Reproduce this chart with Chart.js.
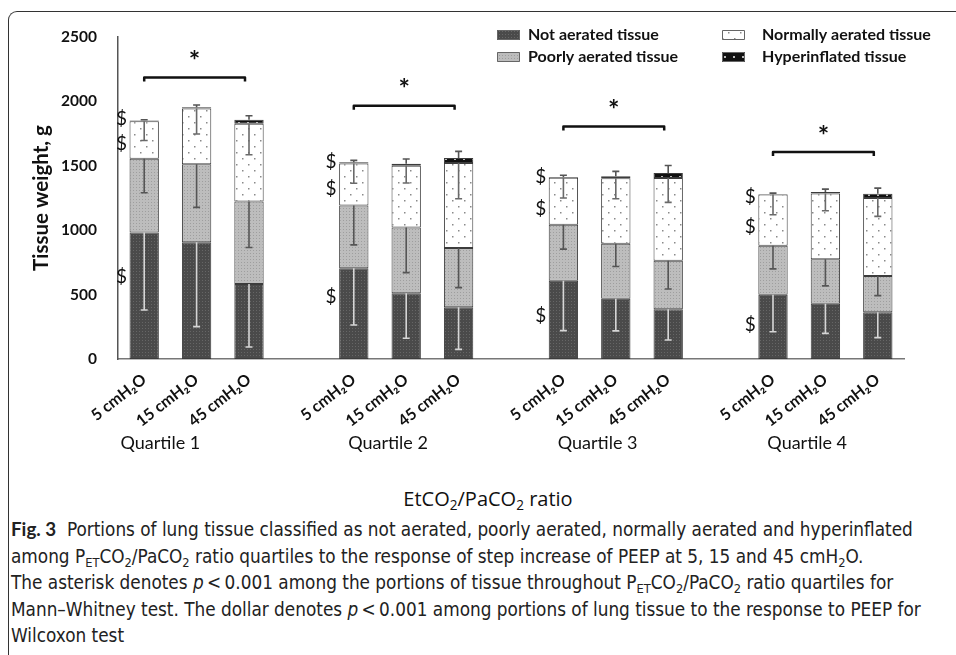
<!DOCTYPE html>
<html>
<head>
<meta charset="utf-8">
<script src="https://cdn.jsdelivr.net/npm/chart.js@4.4.1/dist/chart.umd.min.js"></script>
<style>
    html, body { margin: 0; padding: 0; background: #fff; }
    body { width: 956px; height: 655px; position: relative; overflow: hidden; font-family: Lato, "Open Sans", sans-serif; color: #111; }
    #frame { position: absolute; left: 8px; top: 11px; width: 960px; height: 660px; border-left: 1.5px solid #333; border-top: 1.5px solid #333; border-top-left-radius: 9px; }
    #wrap { position: absolute; left: 0; top: 0; width: 956px; height: 470px; }
    #xtitle { position: absolute; left: 338px; width: 300px; top: 485px; text-align: center; font-size: 20px; font-family: "Open Sans", sans-serif; }
    #caption { position: absolute; left: 11px; top: 516px; font-family: "DejaVu Sans Condensed", "Liberation Sans Narrow", sans-serif; font-size: 18.8px; line-height: 26.5px; color: #222; white-space: nowrap; }
    #caption b { font-family: Lato, "Open Sans", sans-serif; }
    sub { font-size: 0.68em; vertical-align: -0.3em; line-height: 0; }
</style>
</head>
<body>
<div id="frame"></div>
<div id="wrap"><canvas id="chart" width="956" height="470"></canvas></div>
<div id="xtitle">EtCO<sub>2</sub>/PaCO<sub>2</sub> ratio</div>
<div id="caption">
    <div><b>Fig. 3</b>&nbsp; Portions of lung tissue classified as not aerated, poorly aerated, normally aerated and hyperinflated</div>
    <div>among P<sub>ET</sub>CO<sub>2</sub>/PaCO<sub>2</sub> ratio quartiles to the response of step increase of PEEP at 5, 15 and 45 cmH<sub>2</sub>O.</div>
    <div>The asterisk denotes <i>p</i>&thinsp;&lt;&thinsp;0.001 among the portions of tissue throughout P<sub>ET</sub>CO<sub>2</sub>/PaCO<sub>2</sub> ratio quartiles for</div>
    <div>Mann–Whitney test. The dollar denotes <i>p</i>&thinsp;&lt;&thinsp;0.001 among portions of lung tissue to the response to PEEP for</div>
    <div>Wilcoxon test</div>
</div>
<script>
// Categories
const quartiles = ['Quartile 1', 'Quartile 2', 'Quartile 3', 'Quartile 4'];
const peepLabels = ['5 cmH₂O', '15 cmH₂O', '45 cmH₂O'];
const seriesNames = ['Not aerated tissue', 'Poorly aerated tissue', 'Normally aerated tissue', 'Hyperinflated tissue'];

// Tissue weight (g), 3 PEEP steps per quartile
const notAerated      = [982, 907, 583,  705, 511, 402,  607, 467, 386,  498, 428, 363];
const poorlyAerated   = [573, 605, 640,  487, 510, 459,  435, 427, 376,  381, 347, 282];
const normallyAerated = [291, 432, 604,  325, 480, 660,  366, 509, 643,  399, 509, 605];
const hyperinflated   = [5, 10, 30,  10, 15, 40,  5, 15, 40,  3, 12, 33];

// Error bars (g)
const notAeratedErr      = [601, 656, 490,  441, 350, 327,  387, 249, 238,  286, 229, 197];
const poorlyAeratedErr   = [264, 335, 357,  306, 350, 307,  189, 176, 218,  179, 207, 153];
const normallyAeratedErr = [149, 197, 241,  152, 135, 277,  158, 159, 189,  158, 133, 143];
const hyperinflatedErr   = [7, 18, 32,  15, 37, 51,  14, 39, 57,  7, 23, 44];

// Significance marks (g)
const bracketLevels = [2185, 1967, 1806, 1607];
const dollarLevels = [[1866, 1672, 640], [1534, 1322, 483], [1411, 1162, 334], [1262, 1024, 268]];

const yTicks = [0, 500, 1000, 1500, 2000, 2500];

// one empty slot between quartiles
function slots(arr) {
    const out = [];
    quartiles.forEach((q, g) => {
        if (g > 0) out.push(null);
        for (let k = 0; k < 3; k++) out.push(arr[g * 3 + k]);
    });
    return out;
}
function slotIndex(g, k) { return g * 4 + k; }

const slotLabels = slots(quartiles.flatMap(() => peepLabels)).map(l => l || '');

function makePattern(bg, dot, w, h, dots) {
    const c = document.createElement('canvas');
    c.width = w; c.height = h;
    const x = c.getContext('2d');
    x.fillStyle = bg; x.fillRect(0, 0, w, h);
    x.fillStyle = dot;
    dots.forEach(d => x.fillRect(d[0], d[1], d[2] || 1, d[3] || 1));
    return x.createPattern(c, 'repeat');
}

const fills = [
    makePattern('#4a4a4a', '#666666', 3, 3, [[1, 1]]),
    makePattern('#bdbdbd', '#9e9e9e', 3, 3, [[1, 1]]),
    makePattern('#ffffff', '#8a8a8a', 12, 12, [[2, 2, 1.5, 1.5], [8, 8, 1.5, 1.5]]),
    makePattern('#111111', '#bbbbbb', 9, 6, [[4, 2, 2, 2]])
];
const errColors = ['#d6d6d6', '#555555', '#6a6a6a', '#555555'];
const values = [notAerated, poorlyAerated, normallyAerated, hyperinflated];
const errors = [notAeratedErr, poorlyAeratedErr, normallyAeratedErr, hyperinflatedErr];

const datasets = seriesNames.map((name, i) => ({
    label: name,
    data: slots(values[i]),
    errors: slots(errors[i]),
    errColor: errColors[i],
    errDir: i === 3 ? 1 : -1,
    backgroundColor: fills[i],
    borderColor: '#3c3c3c',
    borderWidth: 1,
    borderSkipped: false,
    barPercentage: 0.56,
    categoryPercentage: 1.0
}));

const errorBars = {
    id: 'errorBars',
    afterDatasetsDraw(chart) {
        const ctx = chart.ctx, y = chart.scales.y;
        chart.data.datasets.forEach((ds, i) => {
            const meta = chart.getDatasetMeta(i);
            meta.data.forEach((bar, j) => {
                const e = ds.errors[j];
                if (e == null) return;
                const topVal = y.getValueForPixel(bar.y);
                const yEnd = y.getPixelForValue(topVal + ds.errDir * e);
                ctx.save();
                ctx.strokeStyle = ds.errColor;
                ctx.lineWidth = 1.6;
                ctx.beginPath();
                ctx.moveTo(bar.x, bar.y);
                ctx.lineTo(bar.x, yEnd);
                ctx.moveTo(bar.x - 3.5, yEnd);
                ctx.lineTo(bar.x + 3.5, yEnd);
                ctx.stroke();
                ctx.restore();
            });
        });
    }
};

const annotations = {
    id: 'annotations',
    afterDraw(chart) {
        const ctx = chart.ctx, x = chart.scales.x, y = chart.scales.y;
        ctx.save();
        quartiles.forEach((q, g) => {
            const c0 = x.getPixelForValue(slotIndex(g, 0));
            const c1 = x.getPixelForValue(slotIndex(g, 1));
            const c2 = x.getPixelForValue(slotIndex(g, 2));
            const x1 = c0, x2 = c2 - 4;
            const yb = y.getPixelForValue(bracketLevels[g]);
            // bracket
            ctx.strokeStyle = '#111';
            ctx.lineWidth = 2.5;
            ctx.lineJoin = 'round';
            ctx.beginPath();
            ctx.moveTo(x1, yb + 4);
            ctx.lineTo(x1, yb);
            ctx.lineTo(x2, yb);
            ctx.lineTo(x2, yb + 4);
            ctx.stroke();
            // asterisk
            ctx.fillStyle = '#111';
            ctx.font = 'bold 27px Lato, sans-serif';
            ctx.textAlign = 'center';
            ctx.textBaseline = 'middle';
            ctx.fillText('*', (x1 + x2) / 2, yb - 16);
            // dollar marks left of the first bar
            const half = chart.getDatasetMeta(0).data[slotIndex(g, 0)].width / 2;
            ctx.font = '19px Lato, sans-serif';
            dollarLevels[g].forEach(v => ctx.fillText('$', c0 - half - 8, y.getPixelForValue(v)));
            // quartile label
            const nudge = g === 0 ? -10 : 8;
            ctx.font = '18px Lato, sans-serif';
            ctx.fillText(q, (c0 + c1) / 2 + nudge, x.bottom - 27);
        });

        // legend, two columns
        const cols = [497, 722], rows = [35, 57];
        const order = [[0, 0], [0, 1], [1, 0], [1, 1]];
        ctx.font = 'bold 16px Lato, sans-serif';
        ctx.textAlign = 'left';
        chart.data.datasets.forEach((ds, i) => {
            const lx = cols[order[i][0]], ly = rows[order[i][1]];
            ctx.fillStyle = ds.backgroundColor;
            ctx.fillRect(lx, ly - 5, 23, 10);
            ctx.strokeStyle = '#666';
            ctx.lineWidth = 1;
            ctx.strokeRect(lx + 0.5, ly - 4.5, 22, 9);
            ctx.fillStyle = '#111';
            ctx.fillText(ds.label, lx + (order[i][0] === 0 ? 31 : 40), ly);
        });
        ctx.restore();
    }
};

new Chart(document.getElementById('chart'), {
    type: 'bar',
    data: { labels: slotLabels, datasets },
    options: {
        responsive: false,
        animation: false,
        layout: { padding: { left: 28, right: 52, top: 37, bottom: 0 } },
        plugins: { legend: { display: false }, tooltip: { enabled: false } },
        scales: {
            x: {
                stacked: true,
                grid: { display: false },
                border: { display: true, color: '#777', width: 1.5 },
                ticks: { autoSkip: false, minRotation: 38, maxRotation: 38, padding: 3, color: '#111', font: { family: 'Lato, sans-serif', weight: 'bold', size: 16 } },
                afterFit(s) { s.height = 111; }
            },
            y: {
                stacked: true,
                min: 0,
                max: 2500,
                afterBuildTicks(s) { s.ticks = yTicks.map(v => ({ value: v })); },
                grid: { display: false },
                border: { display: true, color: '#555', width: 1.5 },
                ticks: { padding: 13, color: '#111', callback: v => String(v), font: { family: 'Lato, sans-serif', weight: 'bold', size: 15.5 } },
                title: { display: true, text: 'Tissue weight, g', color: '#111', font: { family: 'Lato, sans-serif', weight: 'bold', size: 20.5 }, padding: { top: 1, bottom: 1 } },
                afterFit(s) { s.width = 90; }
            }
        }
    },
    plugins: [errorBars, annotations]
});
</script>
</body>
</html>
